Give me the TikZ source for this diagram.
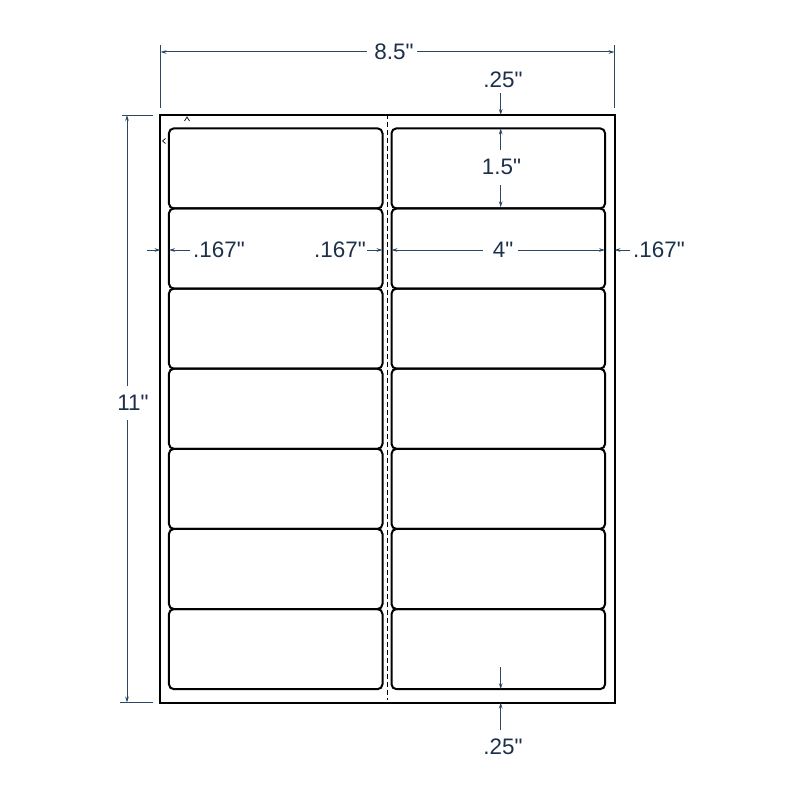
\documentclass[tikz,border=0pt]{standalone}
\usepackage{fontspec}
\setmainfont{Liberation Sans}[Ligatures=TeXOff]
\usetikzlibrary{arrows.meta}
\definecolor{dimc}{RGB}{45,72,100}
\definecolor{txtc}{RGB}{28,48,75}
\begin{document}
\begin{tikzpicture}[x=1bp,y=-1bp,
  lbl/.style={draw=black,line width=2bp,rounded corners=5bp,minimum width=213.6bp,minimum height=80.12bp,inner sep=0pt},
  pagebox/.style={draw=black,line width=2bp,minimum width=454.5bp,minimum height=587.5bp,inner sep=0pt},
  dim/.style={draw=dimc,line width=1bp},
  dimarr/.style={dim,-{Stealth[length=6bp,width=3.6bp]}},
  lab/.style={text=txtc,font=\fontsize{22.5}{26}\selectfont,inner sep=0pt},
  tick/.style={draw=black,line width=0.7bp},
  cutline/.style={draw=black,line width=0.8bp,dash pattern=on 5bp off 3bp}
]
\useasboundingbox (0,0) rectangle (800,800);
% sheet
\node[pagebox] (page) at (387.25,408.75) {};
\draw[cutline] (page.north) -- ([yshift=4bp]page.south);
% labels
\foreach \r in {0,...,6}{
  \node[lbl] (La\r) at (275.7,{168.41+80.12*\r}) {};
  \node[lbl] (Lb\r) at (498.3,{168.41+80.12*\r}) {};
}
% tiny marks
\draw[tick] (184.5,121) -- (187,117) -- (189.5,121);
\draw[tick] (165.5,138.5) -- (162.5,141) -- (165.5,143.5);

% 8.5" dimension
\coordinate (e1a) at (160.5,45); \coordinate (e1b) at (160.5,108);
\coordinate (e2a) at (614.5,45); \coordinate (e2b) at (614.5,108);
\draw[dim] (e1a) -- (e1b);
\draw[dim] (e2a) -- (e2b);
\node[lab] (t85) at (394,52) {8.5"};
\coordinate (p85l) at (160.5,52); \coordinate (p85r) at (614.5,52);
\coordinate (g85l) at (367,52); \coordinate (g85r) at (417,52);
\draw[dimarr] (g85l) -- (p85l);
\draw[dimarr] (g85r) -- (p85r);

% 11" dimension
\coordinate (e3a) at (122,115); \coordinate (e3b) at (153,115);
\coordinate (e4a) at (120,702.5); \coordinate (e4b) at (153,702.5);
\draw[dim] (e3a) -- (e3b);
\draw[dim] (e4a) -- (e4b);
\node[lab] (t11) at (133,403) {11"};
\coordinate (g11t) at (127,386); \coordinate (g11b) at (127,420);
\coordinate (p11t) at (127,115); \coordinate (p11b) at (127,702.5);
\draw[dimarr] (g11t) -- (p11t);
\draw[dimarr] (g11b) -- (p11b);

% top .25"
\node[lab] (t25a) at (503,80) {.25"};
\coordinate (a25s) at (500.7,93); \coordinate (a25e) at (500.7,115);
\draw[dimarr] (a25s) -- (a25e);

% 1.5"
\node[lab] (t15) at (501.5,167) {1.5"};
\coordinate (a15a) at (500.7,150); \coordinate (a15b) at (500.7,128.4);
\coordinate (a15c) at (500.7,185); \coordinate (a15d) at (500.7,207.3);
\draw[dimarr] (a15a) -- (a15b);
\draw[dimarr] (a15c) -- (a15d);

% left .167"
\coordinate (m1a) at (147,250); \coordinate (m1b) at (160.5,250);
\coordinate (m1c) at (190,250); \coordinate (m1d) at (169,250);
\draw[dimarr] (m1a) -- (m1b);
\draw[dimarr] (m1c) -- (m1d);
\node[lab] (t167a) at (219,250) {.167"};

% middle .167"
\node[lab] (t167b) at (340,250) {.167"};
\coordinate (m2a) at (367,250); \coordinate (m2b) at (382.5,250);
\draw[dimarr] (m2a) -- (m2b);

% 4"
\node[lab] (t4) at (503,250) {4"};
\coordinate (m3a) at (483,250); \coordinate (m3b) at (391.5,250);
\coordinate (m3c) at (518,250); \coordinate (m3d) at (605,250);
\draw[dimarr] (m3a) -- (m3b);
\draw[dimarr] (m3c) -- (m3d);

% right .167"
\coordinate (m4a) at (630,250); \coordinate (m4b) at (614.5,250);
\draw[dimarr] (m4a) -- (m4b);
\node[lab] (t167c) at (659,250) {.167"};

% bottom .25"
\coordinate (b1a) at (500.7,667); \coordinate (b1b) at (500.7,689.2);
\coordinate (b2a) at (500.7,730); \coordinate (b2b) at (500.7,702.5);
\draw[dimarr] (b1a) -- (b1b);
\draw[dimarr] (b2a) -- (b2b);
\node[lab] (t25b) at (503,747) {.25"};
\end{tikzpicture}
\end{document}
